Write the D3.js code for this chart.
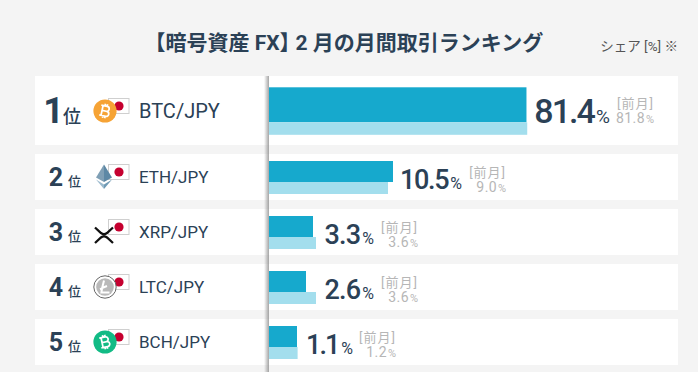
<!DOCTYPE html>
<html lang="ja">
<head>
<meta charset="utf-8">
<script src="https://cdn.jsdelivr.net/npm/d3@7"></script>
<style>
html, body { margin: 0; padding: 0; background: #f4f4f4; }
svg { display: block; }
text { font-family: Roboto, "Noto Sans CJK JP", sans-serif; }
</style>
</head>
<body>
<script>
/* DATA */
var titleHead = '【暗号資産 FX】';
var titleTail = '2 月の月間取引ランキング';
var unitNote = 'シェア [%] ※';
var prevLabel = '[前月]';
var rankSuffix = '位';
var ranks = [1, 2, 3, 4, 5];
var pairs = ['BTC/JPY', 'ETH/JPY', 'XRP/JPY', 'LTC/JPY', 'BCH/JPY'];
var coins = ['btc', 'eth', 'xrp', 'ltc', 'bch'];
var shares = [81.4, 10.5, 3.3, 2.6, 1.1];
var prevShares = [81.8, 9.0, 3.6, 3.6, 1.2];

// the bars in the picture are not proportional, so the share axis is piecewise
var shareKnots = [0, 1.1, 2.6, 3.6, 9, 10.5, 82];
var lengthKnots = [0, 28, 37, 47, 119, 124, 258.6];

/* SIZES */
var width = 698;
var height = 372;
var rowLeft = 35;
var rowRight = 678;
var firstRowTop = 76;
var rowGap = 9;
var bigRowHeight = 69;
var rowHeight = 46;
var barLeft = 269;
var rankRight = 81;
var pairX = 139;

var textColor = '#2b4156';
var mutedColor = '#b6b6b6';
var barColor = '#16a9cd';
var prevBarColor = '#a3deed';

var rowTop = i => i === 0 ? firstRowTop : firstRowTop + bigRowHeight + rowGap + (i - 1) * (rowHeight + rowGap);
var isBig = i => i === 0;

var lengthScale = d3.scaleLinear().domain(shareKnots).range(lengthKnots);
var fmt = d3.format('.1f');

var svg = d3.select('body').append('svg')
    .attr('width', width)
    .attr('height', height);

svg.append('rect')
    .attr('width', width)
    .attr('height', height)
    .attr('fill', '#f4f4f4');

const title = svg.append('text')
    .attr('x', 144.5)
    .attr('y', 50)
    .attr('fill', textColor)
    .style('font-size', '21px')
    .style('font-weight', 700);
title.append('tspan').text(titleHead);
// closing bracket sits tight against the month in the reference
title.append('tspan').attr('dx', -5).text(titleTail);

svg.append('text')
    .attr('x', 678)
    .attr('y', 51)
    .attr('text-anchor', 'end')
    .attr('fill', '#555')
    .style('font-size', '13.5px')
    .text(unitNote);

const rows = svg.selectAll('g.row')
    .data(ranks)
    .join('g')
    .attr('class', 'row')
    .attr('transform', (d, i) => `translate(0, ${rowTop(i)})`);

rows.append('rect')
    .attr('x', rowLeft)
    .attr('width', rowRight - rowLeft)
    .attr('height', (d, i) => isBig(i) ? bigRowHeight : rowHeight)
    .attr('fill', '#fff');

// rank number and suffix
const rankText = rows.append('text')
    .attr('x', rankRight)
    .attr('y', (d, i) => isBig(i) ? 47 : 32)
    .attr('text-anchor', 'end')
    .attr('fill', textColor);
rankText.append('tspan')
    .style('font-size', (d, i) => isBig(i) ? '36px' : '25px')
    .style('font-weight', 700)
    .text(d => d);
rankText.append('tspan')
    .attr('dx', (d, i) => isBig(i) ? -1 : 5)
    .style('font-size', (d, i) => isBig(i) ? '18px' : '13px')
    .style('font-weight', 500)
    .text(rankSuffix);

// pair name
rows.append('text')
    .attr('x', pairX)
    .attr('y', (d, i) => isBig(i) ? 42 : 29)
    .attr('fill', textColor)
    .style('font-size', (d, i) => isBig(i) ? '20px' : '17px')
    .text((d, i) => pairs[i]);

/* ICONS */
const icons = rows.append('g')
    .attr('transform', (d, i) => `translate(105, ${isBig(i) ? 35 : 23})`);

icons.append('rect')
    .attr('x', 3.5)
    .attr('y', -12.5)
    .attr('width', 20.5)
    .attr('height', 15)
    .attr('fill', '#fff')
    .attr('stroke', '#cfcfcf');
icons.append('circle')
    .attr('cx', 14)
    .attr('cy', -5)
    .attr('r', 4.6)
    .attr('fill', '#c5002f');

const bitcoinMark = 'M-3,-5V5M-4.8,-5H1.2a2.5,2.5 0 0 1 0,5H-3M1.2,0H1.8a2.5,2.5 0 0 1 0,5H-4.8M-1,-7.2V-5M1.2,-7.2V-5M-1,5V7.2M1.2,5V7.2';

icons.each(function(d, i) {
    const icon = d3.select(this);
    const coin = coins[i];
    if (coin === 'btc' || coin === 'bch') {
        icon.append('circle').attr('r', 11.6).attr('fill', coin === 'btc' ? '#f6a335' : '#12bb85');
        icon.append('path')
            .attr('d', bitcoinMark)
            .attr('transform', `rotate(${coin === 'btc' ? 12 : -12})`)
            .attr('fill', 'none')
            .attr('stroke', '#fff')
            .attr('stroke-width', 1.7);
    } else if (coin === 'eth') {
        const eth = icon.append('g').attr('transform', 'translate(-1, 0)');
        eth.append('path').attr('d', 'M0,-12.5L-8,0.5L0,5Z').attr('fill', '#7f9fb5');
        eth.append('path').attr('d', 'M0,-12.5L8,0.5L0,5Z').attr('fill', '#5d88a5');
        eth.append('path').attr('d', 'M-8,2.5L0,12L0,7.5Z').attr('fill', '#9bbace');
        eth.append('path').attr('d', 'M8,2.5L0,12L0,7.5Z').attr('fill', '#6f9ab5');
    } else if (coin === 'xrp') {
        icon.append('path')
            .attr('transform', 'translate(-1, 3)')
            .attr('d', 'M-9,-7.5L-3,-2Q0,0.3 3,-2L9,-7.5M-9,8L-3,2.5Q0,0.2 3,2.5L9,8')
            .attr('fill', 'none')
            .attr('stroke', '#111')
            .attr('stroke-width', 2.3);
    } else {
        icon.append('circle').attr('r', 11.2).attr('fill', '#fff').attr('stroke', '#666').attr('stroke-width', 1);
        icon.append('circle').attr('r', 8.8).attr('fill', '#b9b9b9');
        icon.append('path')
            .attr('d', 'M-1,-6.5L-3,1.5L-5,2.3M-3,1.5L-3.6,5.5H4.5M-3,1L2,-1')
            .attr('fill', 'none')
            .attr('stroke', '#fff')
            .attr('stroke-width', 2);
    }
});

/* BARS */
rows.append('rect')
    .attr('x', barLeft)
    .attr('y', (d, i) => isBig(i) ? 11.3 : 7)
    .attr('width', (d, i) => lengthScale(shares[i]))
    .attr('height', (d, i) => isBig(i) ? 35 : 21)
    .attr('fill', barColor);
rows.append('rect')
    .attr('x', barLeft)
    .attr('y', (d, i) => isBig(i) ? 46.3 : 28)
    .attr('width', (d, i) => lengthScale(prevShares[i]))
    .attr('height', (d, i) => isBig(i) ? 12.5 : 12)
    .attr('fill', prevBarColor);

/* VALUE LABELS */
rows.each(function(d, i) {
    const row = d3.select(this);
    const big = isBig(i);
    const barEnd = barLeft + Math.max(lengthScale(shares[i]), lengthScale(prevShares[i]));
    const valueX = barEnd + (i < 2 ? 7 : 8.5);
    // digit spacing differs row by row in the reference
    const spacing = big ? -1.9 : i === 1 ? -1.3 : i === 4 ? -2 : -0.8;

    const value = row.append('text')
        .attr('x', valueX)
        .attr('y', big ? 46.5 : 34.5)
        .attr('fill', textColor);
    value.append('tspan')
        .style('font-size', big ? '34px' : '27px')
        .style('font-weight', 500)
        .style('letter-spacing', spacing + 'px')
        .text(fmt(shares[i]));
    value.append('tspan')
        .attr('dx', i === 4 ? 3 : 2)
        .style('font-size', big ? '19px' : '16px')
        .text('%');

    const prevRight = valueX + value.node().getComputedTextLength() + 46;

    row.append('text')
        .attr('x', prevRight)
        .attr('y', big ? 32 : 22.5)
        .attr('text-anchor', 'end')
        .attr('fill', mutedColor)
        .style('font-size', '13px')
        .style('letter-spacing', '1px')
        .text(prevLabel);

    const prev = row.append('text')
        .attr('x', prevRight)
        .attr('y', big ? 46.7 : 37.7)
        .attr('text-anchor', 'end')
        .attr('fill', mutedColor);
    prev.append('tspan')
        .style('font-size', '14px')
        .style('letter-spacing', '0.4px')
        .text(fmt(prevShares[i]));
    prev.append('tspan')
        .attr('dx', 1)
        .style('font-size', '11px')
        .text('%');
});

/* divider shadow on top of the rows */
const defs = svg.append('defs');
const shade = defs.append('linearGradient').attr('id', 'dividerShade');
shade.append('stop').attr('offset', '0%').attr('stop-color', '#888').attr('stop-opacity', 0);
shade.append('stop').attr('offset', '100%').attr('stop-color', '#888').attr('stop-opacity', 0.75);

svg.append('rect')
    .attr('x', barLeft - 5)
    .attr('y', firstRowTop)
    .attr('width', 5)
    .attr('height', height - firstRowTop)
    .attr('fill', 'url(#dividerShade)');
</script>
</body>
</html>
